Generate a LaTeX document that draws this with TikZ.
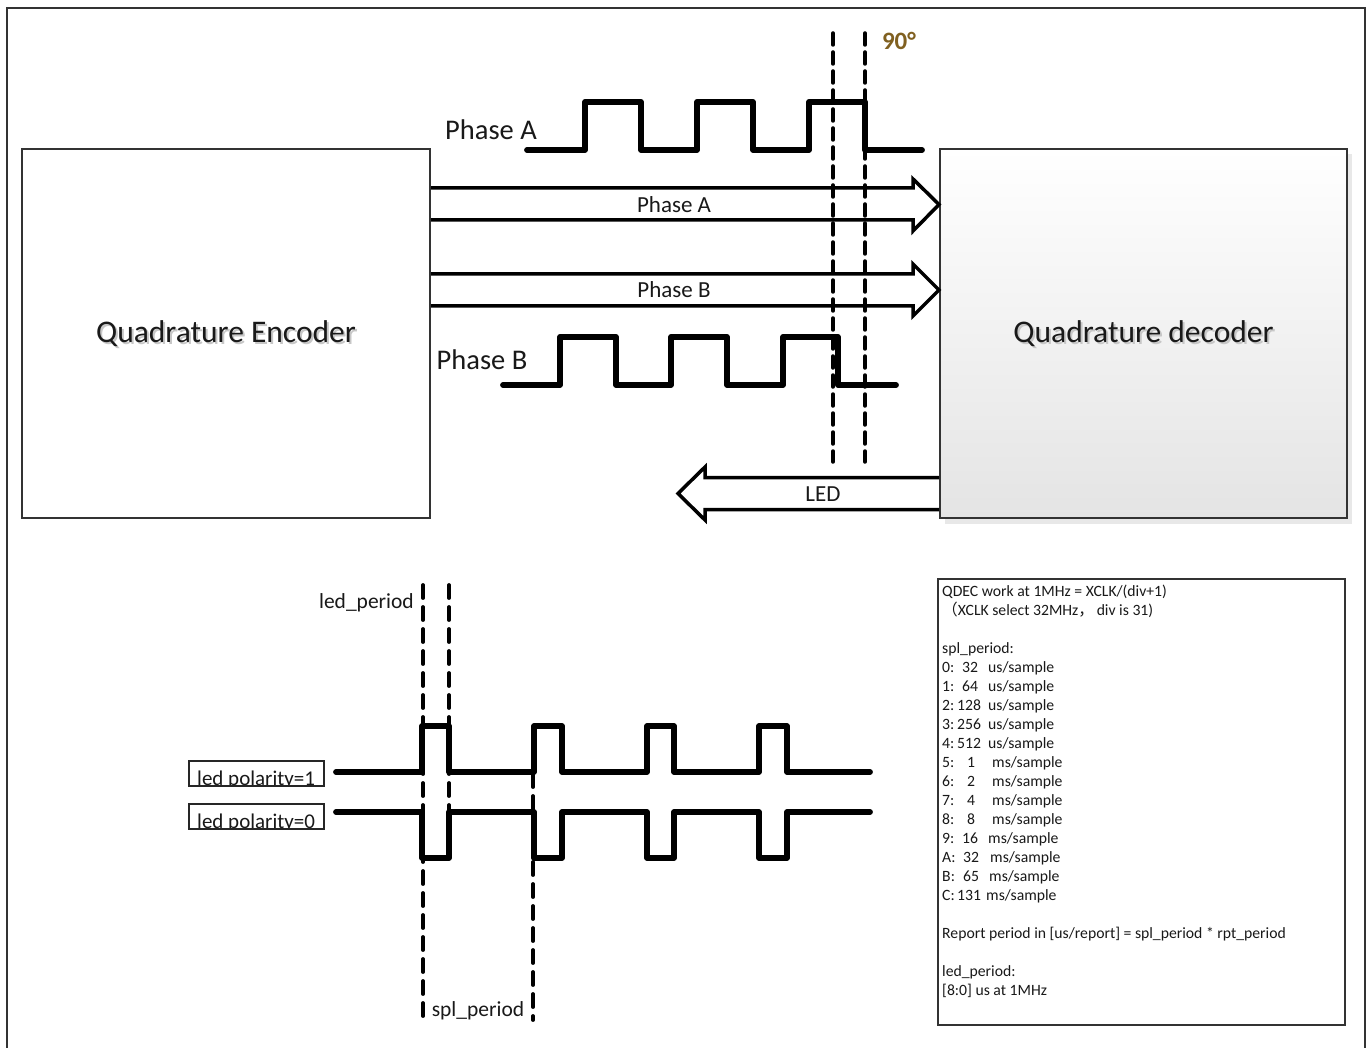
\documentclass[tikz,border=0pt]{standalone}
\usepackage{fontspec}
\setmainfont{Carlito}
\newfontfamily\cjkfont{Noto Sans CJK SC}
\usetikzlibrary{calc}
\definecolor{brownlbl}{RGB}{128,96,32}
\definecolor{decbot}{RGB}{228,228,228}
\definecolor{txtc}{RGB}{25,25,25}
\newcommand\infoline[3]{\node[infotxt] (#1) at (942,#2) {#3};}
\newcommand\splrow[7]{%
  \node[infotxt] (#1k) at (942,#2) {#3};
  \node[infotxt] (#1n) at (#5,#2) {#4};
  \node[infotxt] (#1u) at (#7,#2) {#6};}
\begin{document}
\begin{tikzpicture}[x=1pt,y=-1pt,
  wave/.style={line width=5.8pt, line join=round, line cap=round},
  dashtop/.style={line width=3.5pt, dash pattern=on 12pt off 7pt, line cap=round},
  dashbot/.style={line width=3.8pt, dash pattern=on 13pt off 9pt, line cap=round},
  blockarrow/.style={line width=3.5pt, line join=miter},
  boxed/.style={draw=black!80, line width=2pt, rectangle, inner sep=0pt},
  bigtxt/.style={inner sep=0pt, text=txtc, font=\fontsize{31.5}{38}\selectfont},
  bigshadow/.style={inner sep=0pt, text=black!22, font=\fontsize{31.5}{38}\selectfont},
  phtxt/.style={inner sep=0pt, text=txtc, font=\fontsize{28.5}{34}\selectfont},
  arrtxt/.style={inner sep=1pt, fill=white, text=txtc, font=\fontsize{23}{27}\selectfont},
  midtxt/.style={inner sep=0pt, text=txtc, font=\fontsize{21.5}{25}\selectfont},
  poltxt/.style={inner sep=0pt, anchor=base west, text=txtc, font=\fontsize{21}{25}\selectfont},
  infotxt/.style={inner sep=0pt, anchor=base west, text=txtc, font=\fontsize{15.7}{19}\selectfont},
  degtxt/.style={inner sep=0pt, text=brownlbl, font=\bfseries\fontsize{25}{30}\selectfont}
]
\useasboundingbox (0,0) rectangle (1370,1048);
\fill[white] (0,0) rectangle (1370,1048);
% outer frame
\draw[line width=2pt, black!80] (7,1060) -- (7,8) -- (1365,8) -- (1365,1060);

% encoder box
\node[boxed, fill=white, minimum width=408pt, minimum height=369pt] (enc) at (226,333.5) {};
\node[bigshadow] (encsh) at ($(enc.center)+(2,2.5)$) {Quadrature Encoder};
\node[bigtxt] (enctxt) at (enc.center) {Quadrature Encoder};

% decoder box with shadow and gradient
\fill[black!9] (945,154) rectangle (1352,524);
\node[boxed, top color=white, bottom color=decbot, minimum width=407pt, minimum height=369pt] (dec) at (1143.5,333.5) {};
\node[bigshadow] (decsh) at ($(dec.center)+(2,2.5)$) {Quadrature decoder};
\node[bigtxt] (dectxt) at (dec.center) {Quadrature decoder};

% y levels for block arrows
\coordinate (a1) at (0,188); \coordinate (a2) at (0,220); \coordinate (atip) at (0,204.5);
\coordinate (b1) at (0,274); \coordinate (b2) at (0,306); \coordinate (btip) at (0,290);
\coordinate (l1) at (0,477.5); \coordinate (l2) at (0,509.5);

% Phase A block arrow
\draw[blockarrow] (enc.east |- a1) -- (913,188) -- (913,179) -- (dec.west |- atip)
  -- (913,231) -- (913,220) -- (enc.east |- a2);
\node[arrtxt] (arrA) at (674,205) {Phase A};
% Phase B block arrow
\draw[blockarrow] (enc.east |- b1) -- (913,274) -- (913,264) -- (dec.west |- btip)
  -- (913,316) -- (913,306) -- (enc.east |- b2);
\node[arrtxt] (arrB) at (674,290) {Phase B};
% LED block arrow
\draw[blockarrow] (dec.west |- l1) -- (705,477.5) -- (705,467) -- (678,493.5)
  -- (705,520) -- (705,509.5) -- (dec.west |- l2);

% top waveforms
\draw[wave] (527,150) -- (585,150) -- (585,102) -- (641,102) -- (641,150) -- (697,150)
  -- (697,102) -- (753,102) -- (753,150) -- (809,150) -- (809,102) -- (865,102)
  -- (865,150) -- (922,150);
\node[phtxt] (labA) at (491,130) {Phase A};
\draw[wave] (503,385) -- (560,385) -- (560,337) -- (616,337) -- (616,385) -- (671,385)
  -- (671,337) -- (727,337) -- (727,385) -- (783,385) -- (783,337) -- (838,337)
  -- (838,385) -- (896,385);
\node[phtxt] (labB) at (482,360) {Phase B};

% 90 degree dashed lines
\coordinate (d1t) at (833,33); \coordinate (d1b) at (833,462);
\coordinate (d2t) at (865,33); \coordinate (d2b) at (865,462);
\draw[dashtop] (d1t) -- (d1b);
\draw[dashtop] (d2t) -- (d2b);
\node[degtxt] (deg) at (899,41) {90°};
\node[arrtxt] (ledarr) at (823,494) {LED};

% bottom waveforms
\draw[wave] (336,772) -- (422,772) -- (422,726) -- (449,726) -- (449,772) -- (534,772)
  -- (534,726) -- (562,726) -- (562,772) -- (647,772) -- (647,726) -- (674,726)
  -- (674,772) -- (759,772) -- (759,726) -- (787,726) -- (787,772) -- (870,772);
\draw[wave] (336,812) -- (422,812) -- (422,858) -- (449,858) -- (449,812) -- (534,812)
  -- (534,858) -- (562,858) -- (562,812) -- (647,812) -- (647,858) -- (674,858)
  -- (674,812) -- (759,812) -- (759,858) -- (787,858) -- (787,812) -- (870,812);

% bottom dashed lines
\coordinate (p1t) at (423,585); \coordinate (p1b) at (423,1020);
\coordinate (p2t) at (449,585); \coordinate (p2b) at (449,858);
\coordinate (p3t) at (533,774); \coordinate (p3b) at (533,1020);
\draw[dashbot] (p1t) -- (p1b);
\draw[dashbot] (p2t) -- (p2b);
\draw[dashbot] (p3t) -- (p3b);
\node[midtxt, anchor=east] (ledp) at (414,603) {led\_period};
\node[midtxt] (splp) at (478,1011) {spl\_period};

% polarity labels
\begin{scope}
  \clip (189,761) rectangle (324,786);
  \node[poltxt] (pol1) at (197,785.5) {led polarity=1};
\end{scope}
\draw[line width=1.6pt, black!85] (189,761) rectangle (324,786);
\begin{scope}
  \clip (189,804) rectangle (324,829);
  \node[poltxt] (pol0) at (197,828.5) {led polarity=0};
\end{scope}
\draw[line width=1.6pt, black!85] (189,804) rectangle (324,829);

% info box
\node[boxed, minimum width=407pt, minimum height=446pt] (info) at (1141.5,802) {};
\infoline{i0}{596}{QDEC work at 1MHz = XCLK/(div+1)}
\infoline{i1}{615}{{\cjkfont （}XCLK select 32MHz{\cjkfont ，}\,div is 31)}
\infoline{i3}{653}{spl\_period:}
\splrow{r0}{672}{0:}{32}{962}{us/sample}{988}
\splrow{r1}{691}{1:}{64}{962}{us/sample}{988}
\splrow{r2}{710}{2:}{128}{957}{us/sample}{988}
\splrow{r3}{729}{3:}{256}{957}{us/sample}{988}
\splrow{r4}{748}{4:}{512}{957}{us/sample}{988}
\splrow{r5}{767}{5:}{1}{967}{ms/sample}{992}
\splrow{r6}{786}{6:}{2}{967}{ms/sample}{992}
\splrow{r7}{805}{7:}{4}{967}{ms/sample}{992}
\splrow{r8}{824}{8:}{8}{967}{ms/sample}{992}
\splrow{r9}{843}{9:}{16}{962}{ms/sample}{988}
\splrow{rA}{862}{A:}{32}{963}{ms/sample}{990}
\splrow{rB}{881}{B:}{65}{963}{ms/sample}{989}
\splrow{rC}{900}{C:}{131}{957}{ms/sample}{986}
\infoline{i18}{938}{Report period in [us/report] = spl\_period * rpt\_period}
\infoline{i20}{976}{led\_period:}
\infoline{i21}{995}{[8:0] us at 1MHz}
\end{tikzpicture}
\end{document}
